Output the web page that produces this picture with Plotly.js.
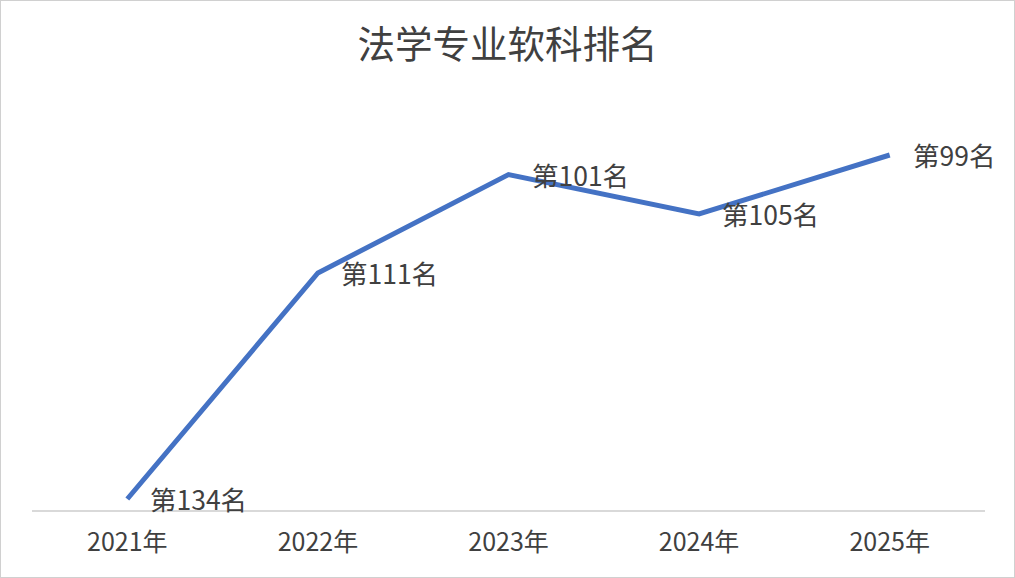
<!DOCTYPE html>
<html>
<head>
<meta charset="utf-8">
<script src="https://cdn.plot.ly/plotly-3.0.1.min.js"></script>
<style>
html,body{margin:0;padding:0;background:#fff;}
#chart{width:1015px;height:578px;box-sizing:border-box;border:1px solid #d0d0d0;}
</style>
</head>
<body>
<div id="chart"></div>
<script>
const years = ["2021年", "2022年", "2023年", "2024年", "2025年"];
const ranks = [134, 111, 101, 105, 99];
const rankLabels = ["第134名", "第111名", "第101名", "第105名", "第99名"];

const FONT = '"Noto Sans CJK SC", "Noto Sans", sans-serif';

const trace = {
  x: years,
  y: ranks,
  type: 'scatter',
  mode: 'lines',
  line: {color: '#4472C4', width: 5},
  hoverinfo: 'skip'
};

const annotations = years.map((yr, i) => ({
  x: yr, y: ranks[i], xref: 'x', yref: 'y',
  text: rankLabels[i], showarrow: false,
  xanchor: 'left', yanchor: 'middle', xshift: 21, yshift: 0,
  font: {family: FONT, size: 26.5, color: '#404040'}
}));

const layout = {
  width: 1013, height: 576,
  margin: {l: 31, r: 29, t: 79, b: 67},
  paper_bgcolor: '#fff', plot_bgcolor: '#fff',
  showlegend: false,
  title: {
    text: '法学专业软科排名',
    font: {family: FONT, size: 37.5, color: '#404040'},
    x: 0.5, xanchor: 'center', y: 1 - 44/576, yanchor: 'middle', yref: 'container'
  },
  xaxis: {
    type: 'category', range: [-0.5, 4.5],
    showgrid: false, zeroline: false,
    showline: true, linecolor: '#d9d9d9', linewidth: 1.5,
    ticks: '', ticklabelstandoff: 9,
    tickfont: {family: FONT, size: 25, color: '#404040'},
    fixedrange: true
  },
  yaxis: {
    range: [135.12, 91.37],
    showgrid: false, zeroline: false, showline: false,
    showticklabels: false, ticks: '', fixedrange: true
  },
  annotations: annotations
};

Plotly.newPlot('chart', [trace], layout, {displayModeBar: false, staticPlot: true});
</script>
</body>
</html>
